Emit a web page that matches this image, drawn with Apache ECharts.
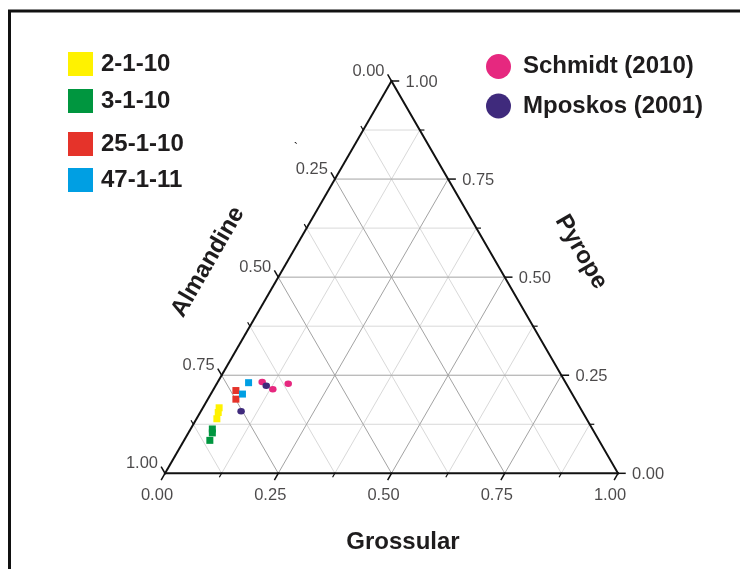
<!DOCTYPE html>
<html>
<head>
<meta charset="utf-8">
<script src="https://cdn.jsdelivr.net/npm/echarts@6/dist/echarts.min.js"></script>
<style>
html,body{margin:0;padding:0;background:#ffffff;}
#chart{width:740px;height:569px;}
</style>
</head>
<body>
<div id="chart"></div>
<script>
// ---- data (ternary compositions: [Almandine, Pyrope, Grossular]) ----
const TICKS = [0, 0.25, 0.5, 0.75, 1];
const TICK_LABELS = ['0.00', '0.25', '0.50', '0.75', '1.00'];
const MINOR_TICKS = [0.125, 0.375, 0.625, 0.875];
const AXIS_TITLES = ['Almandine', 'Pyrope', 'Grossular'];

const SERIES_NAMES = ['2-1-10', '3-1-10', '25-1-10', '47-1-11', 'Schmidt (2010)', 'Mposkos (2001)'];
const s_2_1_10  = [[0.797, 0.167, 0.036], [0.805, 0.155, 0.040], [0.816, 0.139, 0.045]];
const s_3_1_10  = [[0.839, 0.113, 0.048], [0.844, 0.103, 0.053], [0.859, 0.084, 0.057]];
const s_25_1_10 = [[0.738, 0.211, 0.051], [0.749, 0.189, 0.062]];
const s_47_1_11 = [[0.700, 0.231, 0.069], [0.728, 0.202, 0.070]];
const schmidt   = [[0.669, 0.233, 0.098], [0.655, 0.214, 0.131], [0.614, 0.228, 0.158]];
const mposkos   = [[0.665, 0.223, 0.112], [0.753, 0.158, 0.089]];

// ---- ternary -> cartesian (unit side) ----
const H = Math.sqrt(3) / 2;
function toXY(a, p, g) {
  const s = a + p + g;
  return [(g + p / 2) / s, (p * H) / s];
}

// grid lines
function gridSegs(values) {
  const segs = [];
  values.forEach(v => {
    // constant Pyrope
    let a = toXY(1 - v, v, 0), b = toXY(0, v, 1 - v);
    segs.push([a[0], a[1], b[0], b[1]]);
    // constant Grossular
    a = toXY(1 - v, 0, v); b = toXY(0, 1 - v, v);
    segs.push([a[0], a[1], b[0], b[1]]);
    // constant Almandine
    a = toXY(v, 0, 1 - v); b = toXY(v, 1 - v, 0);
    segs.push([a[0], a[1], b[0], b[1]]);
  });
  return segs;
}
const majorInner = TICKS.filter(t => t > 0 && t < 1);
const minorSegs = gridSegs(MINOR_TICKS);
const majorSegs = gridSegs(majorInner);

const V1 = toXY(1, 0, 0), V2 = toXY(0, 0, 1), V3 = toXY(0, 1, 0);
const edgeSegs = [
  [V1[0], V1[1], V2[0], V2[1]],
  [V2[0], V2[1], V3[0], V3[1]],
  [V3[0], V3[1], V1[0], V1[1]]
];

function tickSegs(values, L) {
  const segs = [];
  values.forEach(t => {
    let p = toXY(1 - t, 0, t);              // bottom (Grossular)
    segs.push([p[0], p[1], p[0] - 0.5 * L, p[1] - H * L]);
    p = toXY(t, 1 - t, 0);                  // left (Almandine)
    segs.push([p[0], p[1], p[0] - 0.5 * L, p[1] + H * L]);
    p = toXY(0, t, 1 - t);                  // right (Pyrope)
    segs.push([p[0], p[1], p[0] + L, p[1]]);
  });
  return segs;
}
const majorTickSegs = tickSegs(TICKS, 7 / 453);
const minorTickSegs = tickSegs(MINOR_TICKS, 4 / 453);

function segSeries(data, color, width, z) {
  return {
    type: 'custom',
    coordinateSystem: 'cartesian2d',
    clip: false,
    silent: true,
    z: z,
    encode: { x: [0, 2], y: [1, 3] },
    data: data,
    renderItem: function (params, api) {
      const p1 = api.coord([api.value(0), api.value(1)]);
      const p2 = api.coord([api.value(2), api.value(3)]);
      return {
        type: 'line',
        shape: { x1: p1[0], y1: p1[1], x2: p2[0], y2: p2[1] },
        style: { stroke: color, lineWidth: width, lineCap: 'square' }
      };
    }
  };
}

const TXT = '#1e1c1d';
const FONT = 'Liberation Sans, Arial, sans-serif';

function labelSeries(points, align, offset) {
  return {
    type: 'scatter',
    clip: false,
    silent: true,
    symbolSize: 0,
    z: 5,
    data: points.map((p, i) => ({ value: p, name: TICK_LABELS[i] })),
    label: {
      show: true,
      position: 'inside',
      formatter: '{b}',
      align: align,
      verticalAlign: 'middle',
      offset: offset,
      color: TXT,
      fontFamily: FONT,
      fontSize: 16.5
    }
  };
}
const bottomLabelPts = TICKS.map(t => toXY(1 - t, 0, t));
const leftLabelPts = TICKS.map(t => toXY(t, 1 - t, 0));
const rightLabelPts = TICKS.map(t => toXY(0, t, 1 - t));

const COLORS = ['#fff200', '#00963f', '#e5332a', '#009fe3', '#e6287f', '#3f2a7c'];
const SYMBOLS = ['rect', 'rect', 'rect', 'rect', 'circle', 'circle'];
const SAMPLE_DATA = [s_2_1_10, s_3_1_10, s_25_1_10, s_47_1_11, schmidt, mposkos];

const sampleSeries = SAMPLE_DATA.map((arr, i) => ({
  type: 'scatter',
  name: SERIES_NAMES[i],
  symbol: SYMBOLS[i],
  symbolSize: i < 4 ? [7, 7] : [7.5, 6.5],
  clip: false,
  z: 10,
  itemStyle: { color: COLORS[i], opacity: 1 },
  data: arr.map(c => toXY(c[0], c[1], c[2]))
}));

// legends placed individually
const legendTops = [52, 89, 132, 168, 54, 93.5];
const legends = SERIES_NAMES.map((n, i) => ({
  data: [{ name: n, icon: i < 4 ? 'rect' : 'circle' }],
  left: i < 4 ? 68 : 486,
  top: legendTops[i],
  itemWidth: i < 4 ? 25 : 25,
  itemHeight: i < 4 ? 24 : 25,
  itemGap: 0,
  padding: 0,
  selectedMode: false,
  textStyle: {
    color: TXT, fontFamily: FONT, fontWeight: 'bold', fontSize: 24,
    padding: i < 4 ? [0, 0, 0, 3] : [0, 0, 0, 7]
  }
}));

const chart = echarts.init(document.getElementById('chart'), null, { renderer: 'canvas' });
chart.setOption({
  backgroundColor: '#ffffff',
  animation: false,
  grid: { left: 165, top: 81, width: 453, height: 453 * H, containLabel: false },
  xAxis: { type: 'value', min: 0, max: 1, show: false },
  yAxis: { type: 'value', min: 0, max: H, show: false },
  legend: legends,
  graphic: [
    { type: 'rect', shape: { x: 9.5, y: 11, width: 900, height: 700 },
      style: { fill: 'none', stroke: '#111', lineWidth: 3 }, silent: true },
    { type: 'text', x: 208, y: 262, rotation: Math.PI / 3,
      style: { text: AXIS_TITLES[0], fill: TXT, font: 'bold 24px ' + FONT, align: 'center', verticalAlign: 'middle' } },
    { type: 'text', x: 581, y: 252, rotation: -Math.PI / 3,
      style: { text: AXIS_TITLES[1], fill: TXT, font: 'bold 24px ' + FONT, align: 'center', verticalAlign: 'middle' } },
    { type: 'text', x: 403, y: 542,
      style: { text: AXIS_TITLES[2], fill: TXT, font: 'bold 24px ' + FONT, align: 'center', verticalAlign: 'middle' } },
    { type: 'text', x: 296, y: 148,
      style: { text: '`', fill: TXT, font: '13px ' + FONT, align: 'center', verticalAlign: 'middle' } }
  ],
  series: [
    segSeries(minorSegs, '#d9d9d9', 1, 1),
    segSeries(majorSegs, '#a3a3a3', 1, 2),
    segSeries(edgeSegs, '#111111', 2, 3),
    segSeries(majorTickSegs, '#111111', 1.5, 3),
    segSeries(minorTickSegs, '#111111', 1.2, 3),
    labelSeries(bottomLabelPts, 'center', [-8, 22]),
    labelSeries(leftLabelPts, 'right', [-7, -10]),
    labelSeries(rightLabelPts, 'left', [14, 1.5])
  ].concat(sampleSeries)
});
</script>
</body>
</html>
